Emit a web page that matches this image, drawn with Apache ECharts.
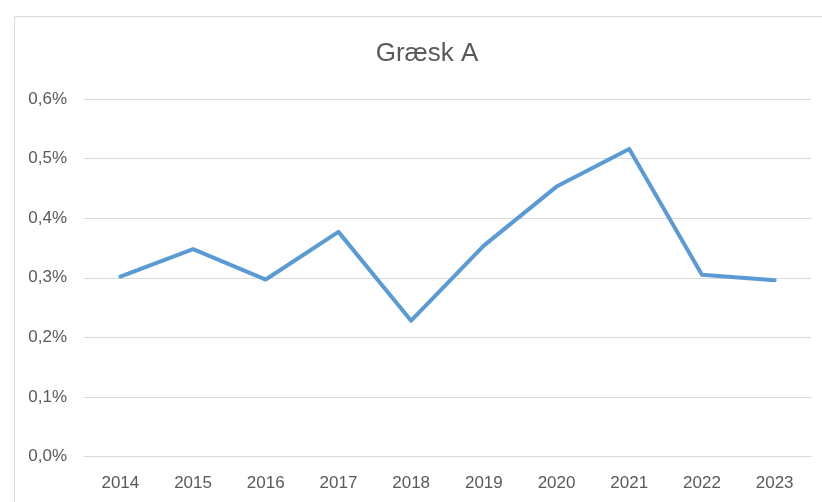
<!DOCTYPE html>
<html>
<head>
<meta charset="utf-8">
<script src="https://cdn.jsdelivr.net/npm/echarts@6/dist/echarts.min.js"></script>
<style>html,body{margin:0;padding:0;background:#fff}#c{width:822px;height:502px}</style>
</head>
<body>
<div id="c"></div>
<script>
const title = 'Græsk A';
const years = ['2014','2015','2016','2017','2018','2019','2020','2021','2022','2023'];
const values = [0.302, 0.348, 0.297, 0.377, 0.228, 0.354, 0.453, 0.516, 0.305, 0.296];
const yTicks = [0, 0.1, 0.2, 0.3, 0.4, 0.5, 0.6];

const chart = echarts.init(document.getElementById('c'), null, {renderer: 'canvas'});
const font = 'Liberation Sans';
chart.setOption({
  animation: false,
  backgroundColor: '#fff',
  graphic: [{
    type: 'rect', left: 12, top: 14,
    shape: {width: 830, height: 520},
    style: {fill: 'none', stroke: '#d9d9d9', lineWidth: 1}
  }],
  title: {
    text: title, left: 422, textAlign: 'center', top: 36,
    textStyle: {fontFamily: font, fontSize: 26, fontWeight: 'normal', color: '#595959'}
  },
  grid: {left: 84, right: 11, top: 99, bottom: 45.5, containLabel: false},
  xAxis: {
    type: 'category', data: years, boundaryGap: true,
    axisLine: {show: true, lineStyle: {color: '#d9d9d9', width: 1}},
    axisTick: {show: false},
    axisLabel: {fontFamily: font, fontSize: 17, color: '#595959', margin: 18}
  },
  yAxis: {
    type: 'value', min: yTicks[0], max: yTicks[yTicks.length - 1], interval: 0.1,
    axisLine: {show: false}, axisTick: {show: false},
    splitLine: {lineStyle: {color: '#d9d9d9', width: 1}},
    axisLabel: {
      fontFamily: font, fontSize: 17, color: '#595959', margin: 17,
      formatter: v => v.toFixed(1).replace('.', ',') + '%'
    }
  },
  series: [{
    type: 'line', data: values, symbol: 'none',
    lineStyle: {color: '#5b9bd5', width: 4, join: 'round', cap: 'round'}
  }]
});
</script>
</body>
</html>
